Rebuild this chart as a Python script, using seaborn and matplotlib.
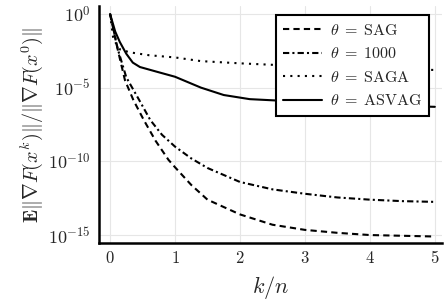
import pandas as pd
import numpy as np
from matplotlib import pyplot as plt
import seaborn as sns

# estimated log10 of E||grad F(x^k)|| / ||grad F(x^0)||
sag_x = [0, 0.12, 0.23, 0.36, 0.52, 0.7, 0.9, 1.0, 1.25, 1.5, 2.0, 2.5, 3.0, 3.5, 4.0, 4.5, 5.0]
sag_y = [0, -2.45, -4.5, -5.85, -7.2, -8.6, -9.9, -10.4, -11.6, -12.6, -13.6, -14.3, -14.65, -14.85, -15.0, -15.05, -15.1]

t1000_x = [0, 0.12, 0.25, 0.45, 0.62, 0.8, 1.0, 1.25, 1.5, 2.0, 2.5, 3.0, 3.5, 4.0, 4.5, 5.0]
t1000_y = [0, -2.4, -4.3, -5.85, -7.2, -8.2, -9.0, -9.8, -10.45, -11.4, -11.9, -12.2, -12.45, -12.6, -12.7, -12.75]

saga_x = [0, 0.05, 0.15, 0.3, 0.6, 1.0, 1.4, 2.0, 2.6, 3.0, 3.5, 4.0, 4.5, 5.0]
saga_y = [0, -1.7, -2.4, -2.6, -2.8, -2.95, -3.2, -3.35, -3.47, -3.55, -3.62, -3.7, -3.75, -3.8]

asvag_x = [0, 0.08, 0.15, 0.25, 0.35, 0.46, 0.72, 1.0, 1.4, 1.75, 2.15, 2.6, 3.0, 3.5, 4.0, 4.5, 5.0]
asvag_y = [0, -1.2, -1.9, -2.7, -3.3, -3.6, -3.92, -4.26, -5.0, -5.5, -5.78, -5.88, -6.0, -6.1, -6.2, -6.25, -6.3]

names = [r'$\theta \;=\; \mathrm{SAG}$', r'$\theta \;=\; 1000$',
         r'$\theta \;=\; \mathrm{SAGA}$', r'$\theta \;=\; \mathrm{ASVAG}$']
xs = [sag_x, t1000_x, saga_x, asvag_x]
ys = [sag_y, t1000_y, saga_y, asvag_y]

frames = []
for name, x, y in zip(names, xs, ys):
    frames.append(pd.DataFrame({'k/n': x, 'err': 10.0 ** np.array(y), 'method': name}))
df = pd.concat(frames, ignore_index=True)

sns.set_style('whitegrid')
plt.rcParams['mathtext.fontset'] = 'cm'
plt.rcParams['font.family'] = ['DejaVu Serif']

fig = plt.figure(figsize=(4.47, 3.06), dpi=100)
ax = fig.add_axes([99 / 447, 1 - 243 / 306, 343 / 447, 237 / 306])

dashes = {names[0]: (3, 2), names[1]: (3, 1.5, 1, 1.5),
          names[2]: (1, 2.5), names[3]: ''}
sns.lineplot(data=df, x='k/n', y='err', style='method', style_order=names,
             dashes=dashes, color='black', linewidth=1.5, legend=False, ax=ax)

ax.set_yscale('log')
ax.set_xlim(-0.17, 5.11)
ax.set_ylim(10 ** -15.54, 10 ** 0.54)
ax.set_xticks([0, 1, 2, 3, 4, 5])
ax.set_xticklabels([f'${i}$' for i in range(6)])
ax.set_yticks([1, 1e-5, 1e-10, 1e-15])
ax.set_yticklabels([r'$10^{0}$', r'$10^{-5}$', r'$10^{-10}$', r'$10^{-15}$'])
ax.yaxis.set_minor_locator(plt.NullLocator())
ax.tick_params(axis='x', length=0, labelsize=12, pad=5)
ax.tick_params(axis='y', length=0, labelsize=13, pad=6)
ax.grid(True, color='#e6e6e6', linewidth=0.8)

for side in ['top', 'right']:
    ax.spines[side].set_visible(False)
for side in ['left', 'bottom']:
    ax.spines[side].set_color('black')
    ax.spines[side].set_linewidth(1.8)

ax.set_xlabel(r'$k/n$', fontsize=16, labelpad=5)
ax.set_ylabel(r'$\mathbf{E}\|\nabla F(x^k)\|/\|\nabla F(x^0)\|$', fontsize=14.5, labelpad=2)

leg = ax.legend(ax.get_lines()[:4], names, loc='upper right', fontsize=11.5,
                frameon=True, fancybox=False, handlelength=2.4,
                borderaxespad=0.4, labelspacing=0.4, handletextpad=0.5,
                borderpad=0.45, bbox_to_anchor=(0.98, 0.99))
leg.get_frame().set_edgecolor('black')
leg.get_frame().set_linewidth(1.5)
leg.get_frame().set_alpha(1)

fig.savefig('out.png', dpi=100)
